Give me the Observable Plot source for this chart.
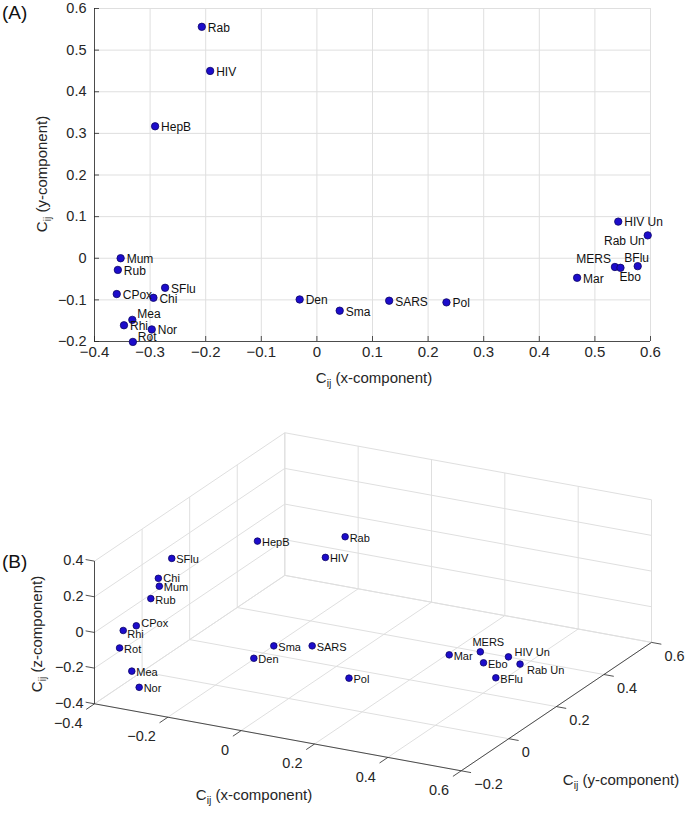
<!DOCTYPE html>
<html><head><meta charset="utf-8">
<script src="https://cdn.jsdelivr.net/npm/d3@7"></script>
<script src="https://cdn.jsdelivr.net/npm/@observablehq/plot@0.6"></script>
<style>
body{margin:0;background:#fff;}
#wrap{width:690px;height:814px;position:relative;font-family:"Liberation Sans",Arial,sans-serif;}
svg{display:block;}
</style></head><body><div id="wrap"></div>
<script>
// ---------------- data ----------------
const names = ["Rab","HIV","HepB","Mum","Rub","SFlu","CPox","Chi","Mea","Rhi","Nor","Rot","Den","Sma","SARS","Pol","Mar","MERS","Ebo","BFlu","Rab Un","HIV Un"];
const cx = [-0.207,-0.192,-0.291,-0.353,-0.358,-0.273,-0.360,-0.294,-0.332,-0.347,-0.297,-0.331,-0.031,0.041,0.130,0.233,0.468,0.536,0.546,0.577,0.595,0.542];
const cy = [0.556,0.450,0.317,0.000,-0.028,-0.071,-0.086,-0.095,-0.148,-0.161,-0.171,-0.201,-0.099,-0.126,-0.102,-0.106,-0.047,-0.021,-0.023,-0.019,0.055,0.088];
const cz = [-0.071,-0.086,0.088,0.097,0.051,0.347,-0.050,0.249,-0.238,-0.004,-0.295,-0.060,-0.097,0.024,0.036,-0.103,0.063,0.082,0.026,-0.050,-0.033,-0.042];

const xTicksA = [-0.4,-0.3,-0.2,-0.1,0,0.1,0.2,0.3,0.4,0.5,0.6];
const yTicksA = [-0.2,-0.1,0,0.1,0.2,0.3,0.4,0.5,0.6];
const xTicksB = [-0.4,-0.2,0,0.2,0.4,0.6];
const yTicksB = [-0.2,0,0.2,0.4,0.6];
const zTicksB = [-0.4,-0.2,0,0.2,0.4];

// ---------------- styles ----------------
const FONT = '"Liberation Sans", Arial, Helvetica, sans-serif';
const INK = "#262626", GRID = "#dfdfdf";
const DOT_FILL = "#1c0ccb", DOT_STROKE = "#0c0566";
const fmt = d => d === 0 ? "0" : (d < 0 ? "\u2212" : "") + d3.format("~g")(Math.abs(d));

// label nudges (pixels): [dx, dy, anchor]
const nudgeA = {Mea:[5,-6,"start"], Rot:[5,-5,"start"], "Rab Un":[-3,6,"end"], MERS:[-4,-8,"end"], BFlu:[-1,-8,"middle"], Ebo:[-1,9,"start"]};
const nudgeB = {MERS:[8,-9,"middle"], "HIV Un":[6,-4,"start"], "Rab Un":[7,6,"start"], Rhi:[4,4,"start"], CPox:[5,-2,"start"], Chi:[5,0,"start"]};

const rows = names.map((n, i) => ({name: n, x: cx[i], y: cy[i], z: cz[i]}));
const wrap = d3.select("#wrap");

// ---------------- Panel A ----------------
const WA = 690, HA = 400, mL = 94, mR = 40, mT = 8, mB = 59;
const frameW = WA - mL - mR, frameH = HA - mT - mB;
const labelMarksA = rows.map(r => {
  const [dx, dy, anchor] = nudgeA[r.name] || [6, 1, "start"];
  return Plot.text([r], {x: "x", y: "y", text: "name", dx, dy, textAnchor: anchor, fontSize: 12, fill: "#111"});
});
const plotA = Plot.plot({
  width: WA, height: HA, marginLeft: mL, marginRight: mR, marginTop: mT, marginBottom: mB,
  style: {fontFamily: FONT, fontSize: "15px", color: INK, background: "white", overflow: "visible"},
  x: {domain: [-0.4, 0.6]},
  y: {domain: [-0.2, 0.6]},
  marks: [
    Plot.ruleX(xTicksA, {stroke: GRID, strokeWidth: 1}),
    Plot.ruleY(yTicksA, {stroke: GRID, strokeWidth: 1}),
    Plot.ruleX([-0.4], {stroke: INK, strokeWidth: 0.8}),
    Plot.ruleY([-0.2], {stroke: INK, strokeWidth: 0.8}),
    Plot.tickX(xTicksA, {x: d => d, stroke: INK, strokeWidth: 0.8, insetTop: frameH - 5}),
    Plot.tickY(yTicksA, {y: d => d, stroke: INK, strokeWidth: 0.8, insetRight: frameW - 5}),
    Plot.axisX({ticks: xTicksA, tickSize: 0, tickPadding: 5, tickFormat: fmt, label: null, fontSize: 15, fill: INK}),
    Plot.axisY({ticks: yTicksA, tickSize: 0, tickPadding: 8, tickFormat: fmt, label: null, fontSize: 14.5, fill: INK}),
    Plot.dot(rows, {x: "x", y: "y", r: 3.7, fill: DOT_FILL, stroke: DOT_STROKE, strokeWidth: 0.8}),
    ...labelMarksA
  ]
});
wrap.node().appendChild(plotA);

function addTitle(svg, x, y, main, rotate, size) {
  const t = d3.select(svg).append("text")
    .attr("transform", `translate(${x},${y})` + (rotate ? " rotate(-90)" : ""))
    .attr("text-anchor", "middle").attr("font-family", FONT).attr("font-size", size || 15).attr("fill", INK);
  t.append("tspan").text("C");
  t.append("tspan").attr("font-size", 10.5).attr("dy", 4).text("ij");
  t.append("tspan").attr("dy", -4).text(" " + main);
  return t;
}
function addPanelTag(svg, y, tag) {
  d3.select(svg).append("text").attr("x", 2).attr("y", y).attr("text-anchor", "start")
    .attr("font-family", FONT).attr("font-size", 19).attr("fill", "#111").text(tag);
}
addTitle(plotA, 374, 383, "(x-component)", false);
addTitle(plotA, 47, 174, "(y-component)", true);
addPanelTag(plotA, 19, "(A)");

// ---------------- Panel B (3-D view, orthographic projection) ----------------
const WB = 690, HB = 814 - HA;
const view = {min: [-0.4, -0.2, -0.4], origin: [94, 303.3],
  ex: [366.7, 67], ey: [237.9, -160.5], ez: [0, -178.3]};
function proj(x, y, z) {
  const X = x - view.min[0], Y = y - view.min[1], Z = z - view.min[2];
  return [view.origin[0] + X * view.ex[0] + Y * view.ey[0] + Z * view.ez[0],
          view.origin[1] + X * view.ex[1] + Y * view.ey[1] + Z * view.ez[1]];
}
function seg(a, b) { const p = proj(...a), q = proj(...b); return {x1: p[0], y1: p[1], x2: q[0], y2: q[1]}; }
const [x0, x1] = [xTicksB[0], xTicksB[xTicksB.length - 1]];
const [y0, y1] = [yTicksB[0], yTicksB[yTicksB.length - 1]];
const [z0, z1] = [zTicksB[0], zTicksB[zTicksB.length - 1]];

const grid = [];
xTicksB.forEach(t => { grid.push(seg([t, y0, z0], [t, y1, z0])); grid.push(seg([t, y1, z0], [t, y1, z1])); });
yTicksB.forEach(t => { grid.push(seg([x0, t, z0], [x1, t, z0])); grid.push(seg([x0, t, z0], [x0, t, z1])); });
zTicksB.forEach(t => { grid.push(seg([x0, y0, t], [x0, y1, t])); grid.push(seg([x0, y1, t], [x1, y1, t])); });

const axes = [seg([x0, y0, z0], [x1, y0, z0]), seg([x1, y0, z0], [x1, y1, z0]), seg([x0, y0, z0], [x0, y0, z1])];
const unit = v => { const l = Math.hypot(v[0], v[1]); return [v[0] / l, v[1] / l]; };
const uX = unit(view.ex), uY = unit(view.ey);
const ticksB = [];
const tickLab = [];
xTicksB.forEach(t => { const p = proj(t, y0, z0); ticksB.push({x1: p[0], y1: p[1], x2: p[0] - 10 * uY[0], y2: p[1] - 10 * uY[1]});
  tickLab.push({x: p[0] - 12, y: p[1] + 19.5, text: fmt(t), anchor: "end"}); });
yTicksB.forEach(t => { const p = proj(x1, t, z0); ticksB.push({x1: p[0], y1: p[1], x2: p[0] + 10 * uX[0], y2: p[1] + 10 * uX[1]});
  tickLab.push({x: p[0] + 13, y: p[1] + 14, text: fmt(t), anchor: "start"}); });
zTicksB.forEach(t => { const p = proj(x0, y0, t); ticksB.push({x1: p[0], y1: p[1], x2: p[0] - 9 * uX[0], y2: p[1] - 9 * uX[1]});
  tickLab.push({x: p[0] - 11, y: p[1] - 0.5, text: fmt(t), anchor: "end"}); });

const ptsB = rows.map(r => { const p = proj(r.x, r.y, r.z); return {name: r.name, px: p[0], py: p[1]}; });
const labelMarksB = ptsB.map(r => {
  const [dx, dy, anchor] = nudgeB[r.name] || [4.5, 1.5, "start"];
  return Plot.text([r], {x: "px", y: "py", text: "name", dx, dy, textAnchor: anchor, fontSize: 11, fill: "#111"});
});

const plotB = Plot.plot({
  width: WB, height: HB, margin: 0,
  style: {fontFamily: FONT, fontSize: "14px", color: INK, background: "white", overflow: "visible"},
  x: {type: "identity", axis: null},
  y: {type: "identity", axis: null},
  marks: [
    Plot.link(grid, {x1: "x1", y1: "y1", x2: "x2", y2: "y2", stroke: GRID, strokeWidth: 1}),
    Plot.link(axes, {x1: "x1", y1: "y1", x2: "x2", y2: "y2", stroke: INK, strokeWidth: 0.8}),
    Plot.link(ticksB, {x1: "x1", y1: "y1", x2: "x2", y2: "y2", stroke: INK, strokeWidth: 0.8}),
    Plot.text(tickLab.filter(d => d.anchor === "end"), {x: "x", y: "y", text: "text", textAnchor: "end", fontSize: 14.5, fill: INK}),
    Plot.text(tickLab.filter(d => d.anchor === "start"), {x: "x", y: "y", text: "text", textAnchor: "start", fontSize: 14.5, fill: INK}),
    Plot.dot(ptsB, {x: "px", y: "py", r: 3.3, fill: DOT_FILL, stroke: DOT_STROKE, strokeWidth: 0.8}),
    ...labelMarksB
  ]
});
wrap.node().appendChild(plotB);
addTitle(plotB, 254, 400, "(x-component)", false);
addTitle(plotB, 621, 385, "(y-component)", false);
addTitle(plotB, 42, 234, "(z-component)", true);
addPanelTag(plotB, 168, "(B)");
</script></body></html>
